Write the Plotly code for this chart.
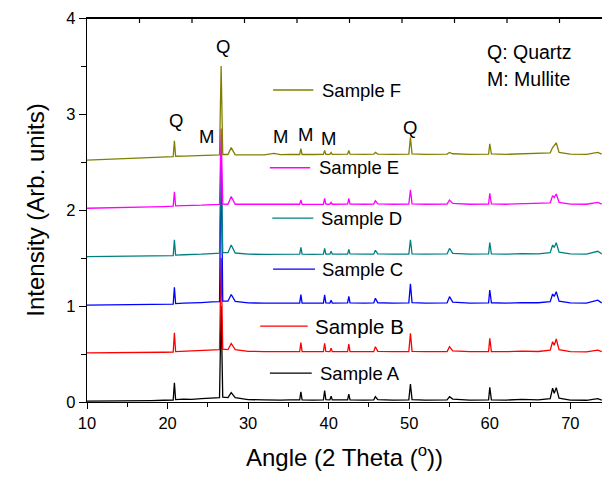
import plotly.graph_objects as go

# 2-theta angles (degrees) sampled along each pattern
angle = [10, 12, 14, 16, 18, 19.5, 20.7, 20.85, 21.0, 22, 23, 24.2, 25.5, 26.45, 26.65, 26.85,
         27.5, 27.9, 28.4, 30, 32, 33.2, 34, 35.2, 36.4, 36.55, 36.7, 38, 39.35, 39.5, 39.65,
         40.15, 40.3, 40.45, 41.5, 42.35, 42.5, 42.65, 44.5, 45.6, 45.8, 46.1, 48, 49.95, 50.15,
         50.35, 52, 54.7, 55.0, 55.4, 57.5, 59.85, 60.0, 60.2, 62, 64, 66, 67.5, 67.8, 68.0,
         68.25, 68.6, 70, 72, 73.4, 73.9]

sample_names = ["Sample A", "Sample B", "Sample C", "Sample D", "Sample E", "Sample F"]
offsets = [0.0, 0.5, 1.0, 1.5, 2.0, 2.5]
colors = ["#000000", "#FF0000", "#0000FF", "#008080", "#FF00FF", "#808000"]

sample_a = [0.010, 0.010, 0.012, 0.012, 0.015, 0.018, 0.020, 0.200, 0.025, 0.030, 0.028, 0.035,
            0.040, 0.045, 1.000, 0.050, 0.045, 0.097, 0.045, 0.025, 0.022, 0.025, 0.020, 0.022,
            0.022, 0.107, 0.022, 0.020, 0.022, 0.118, 0.025, 0.022, 0.060, 0.022, 0.020, 0.022,
            0.083, 0.022, 0.020, 0.022, 0.055, 0.025, 0.020, 0.022, 0.188, 0.025, 0.020, 0.022,
            0.055, 0.030, 0.020, 0.022, 0.153, 0.022, 0.020, 0.028, 0.022, 0.035, 0.143, 0.090,
            0.150, 0.040, 0.020, 0.018, 0.035, 0.020]
sample_b = [0.012, 0.012, 0.014, 0.014, 0.016, 0.018, 0.020, 0.220, 0.025, 0.030, 0.030, 0.036,
            0.040, 0.045, 1.000, 0.050, 0.045, 0.110, 0.045, 0.028, 0.025, 0.026, 0.024, 0.024,
            0.025, 0.118, 0.025, 0.024, 0.025, 0.110, 0.026, 0.024, 0.060, 0.024, 0.024, 0.025,
            0.104, 0.026, 0.024, 0.025, 0.076, 0.028, 0.024, 0.025, 0.216, 0.028, 0.024, 0.026,
            0.076, 0.032, 0.024, 0.025, 0.163, 0.026, 0.024, 0.030, 0.026, 0.040, 0.128, 0.090,
            0.156, 0.045, 0.024, 0.022, 0.040, 0.024]
sample_c = [0.010, 0.012, 0.014, 0.015, 0.016, 0.018, 0.020, 0.195, 0.025, 0.030, 0.030, 0.036,
            0.042, 0.045, 1.600, 0.050, 0.050, 0.120, 0.048, 0.032, 0.030, 0.032, 0.030, 0.030,
            0.030, 0.120, 0.030, 0.030, 0.030, 0.115, 0.032, 0.030, 0.060, 0.030, 0.030, 0.032,
            0.100, 0.032, 0.030, 0.032, 0.080, 0.034, 0.030, 0.032, 0.230, 0.034, 0.030, 0.032,
            0.097, 0.040, 0.030, 0.032, 0.167, 0.034, 0.030, 0.036, 0.034, 0.045, 0.125, 0.100,
            0.149, 0.050, 0.032, 0.030, 0.060, 0.032]
sample_d = [0.014, 0.015, 0.016, 0.018, 0.020, 0.022, 0.024, 0.190, 0.030, 0.034, 0.034, 0.040,
            0.046, 0.050, 1.100, 0.055, 0.055, 0.135, 0.052, 0.040, 0.038, 0.040, 0.038, 0.038,
            0.040, 0.110, 0.040, 0.038, 0.040, 0.100, 0.040, 0.040, 0.070, 0.040, 0.040, 0.040,
            0.090, 0.042, 0.040, 0.040, 0.080, 0.042, 0.040, 0.040, 0.190, 0.042, 0.040, 0.042,
            0.100, 0.048, 0.040, 0.042, 0.160, 0.042, 0.040, 0.045, 0.042, 0.055, 0.135, 0.110,
            0.160, 0.060, 0.042, 0.040, 0.070, 0.042]
sample_e = [0.018, 0.020, 0.024, 0.028, 0.032, 0.036, 0.040, 0.190, 0.044, 0.046, 0.046, 0.050,
            0.055, 0.058, 0.850, 0.062, 0.060, 0.140, 0.060, 0.060, 0.058, 0.060, 0.058, 0.058,
            0.060, 0.104, 0.060, 0.058, 0.060, 0.120, 0.062, 0.060, 0.080, 0.060, 0.060, 0.062,
            0.120, 0.062, 0.060, 0.062, 0.097, 0.064, 0.060, 0.062, 0.210, 0.064, 0.060, 0.062,
            0.104, 0.068, 0.060, 0.062, 0.174, 0.064, 0.060, 0.065, 0.064, 0.075, 0.150, 0.130,
            0.167, 0.080, 0.062, 0.060, 0.080, 0.062]
sample_f = [0.020, 0.026, 0.032, 0.040, 0.048, 0.052, 0.056, 0.220, 0.060, 0.062, 0.064, 0.068,
            0.075, 0.075, 1.000, 0.078, 0.078, 0.150, 0.075, 0.075, 0.075, 0.090, 0.076, 0.078,
            0.078, 0.140, 0.078, 0.078, 0.080, 0.120, 0.080, 0.080, 0.100, 0.080, 0.080, 0.082,
            0.120, 0.082, 0.080, 0.082, 0.100, 0.082, 0.080, 0.082, 0.257, 0.084, 0.080, 0.082,
            0.100, 0.086, 0.080, 0.082, 0.190, 0.084, 0.080, 0.085, 0.084, 0.095, 0.150, 0.170,
            0.200, 0.100, 0.082, 0.080, 0.100, 0.082]

patterns = [sample_a, sample_b, sample_c, sample_d, sample_e, sample_f]

# phase labels: (text, angle, intensity)
phase_labels = [("Q", 21.0, 2.93), ("M", 24.8, 2.77), ("Q", 26.85, 3.70), ("M", 34.0, 2.77),
                ("M", 37.1, 2.79), ("M", 40.0, 2.74), ("Q", 50.1, 2.86)]
legend_key = ["Q: Quartz", "M: Mullite"]

# per-sample label placement: (line start, line end, text start, y, font size)
label_pos = [(32.7, 37.9, 38.7, 0.30, 18.5), (31.5, 37.4, 38.1, 0.79, 20.5),
             (33.1, 38.3, 38.9, 1.385, 18.5), (33.0, 38.1, 38.8, 1.915, 18.5),
             (32.7, 37.7, 38.55, 2.44, 18.5), (33.1, 38.1, 38.9, 3.25, 18.5)]

FONT = "Liberation Sans, Arial, sans-serif"

fig = go.Figure()
for name, off, col, pat in zip(sample_names, offsets, colors, patterns):
    fig.add_trace(go.Scatter(x=angle, y=[v + off for v in pat], mode="lines", name=name,
                             line=dict(color=col, width=1.3), showlegend=False, cliponaxis=True))

for (x0, x1, xt, yv, fs), name, col in zip(label_pos, sample_names, colors):
    fig.add_shape(type="line", xref="x", yref="y", x0=x0, x1=x1, y0=yv, y1=yv,
                  line=dict(color=col, width=1.3))
    fig.add_annotation(x=xt, y=yv, xref="x", yref="y", text=name, showarrow=False,
                       xanchor="left", yanchor="middle", font=dict(size=fs, color="black", family=FONT))

for txt, xv, yv in phase_labels:
    fig.add_annotation(x=xv, y=yv, xref="x", yref="y", text=txt, showarrow=False,
                       xanchor="center", yanchor="middle", font=dict(size=18.5, color="black", family=FONT))

fig.add_annotation(x=59.4, y=3.65, xref="x", yref="y", text=legend_key[0], showarrow=False,
                   xanchor="left", yanchor="middle", font=dict(size=19.5, color="black", family=FONT))
fig.add_annotation(x=59.4, y=3.36, xref="x", yref="y", text=legend_key[1], showarrow=False,
                   xanchor="left", yanchor="middle", font=dict(size=19.5, color="black", family=FONT))

# top frame line with its inward ticks (evenly spaced, as in the original frame)
fig.add_shape(type="line", xref="paper", yref="paper", x0=0, x1=1, y0=0.999, y1=0.999,
              line=dict(color="black", width=1.4), layer="above")
for k in range(1, 10):
    fig.add_shape(type="line", xref="paper", yref="paper", x0=k * 52.5 / 515, x1=k * 52.5 / 515,
                  y0=1, y1=1 - 5 / 384, line=dict(color="black", width=1.2), layer="above")

fig.update_layout(
    width=602, height=478,
    margin=dict(l=87, r=0, t=18, b=76, autoexpand=False),
    paper_bgcolor="white", plot_bgcolor="white",
    font=dict(family=FONT, color="black"),
    xaxis=dict(range=[10, 73.93], tick0=10, dtick=10, ticks="outside", ticklen=6, tickwidth=1.2,
               tickcolor="black", showline=True, linecolor="black", linewidth=1.3, mirror=True,
               showgrid=False, zeroline=False, tickfont=dict(size=16.5), automargin=False,
               minor=dict(dtick=5, ticks="outside", ticklen=4, tickwidth=1.2, tickcolor="black"),
               title=dict(text="Angle (2 Theta (<sup>o</sup>))", font=dict(size=24), standoff=18)),
    yaxis=dict(range=[0, 4], tickvals=[0, 1, 2, 3, 4], ticks="outside", ticklen=7, tickwidth=1.2,
               tickcolor="black", showline=True, linecolor="black", linewidth=1.3,
               showgrid=False, zeroline=False, tickfont=dict(size=16.5), automargin=False,
               minor=dict(tickvals=[0.5, 1.5, 2.5, 3.5], ticks="outside", ticklen=5, tickwidth=1.2,
                          tickcolor="black"),
               title=dict(text="Intensity (Arb. units)", font=dict(size=24), standoff=14)),
)

fig.write_html("out.html", config={"displayModeBar": False},
               post_script="document.body.style.margin='0px';document.body.style.overflow='hidden';")
